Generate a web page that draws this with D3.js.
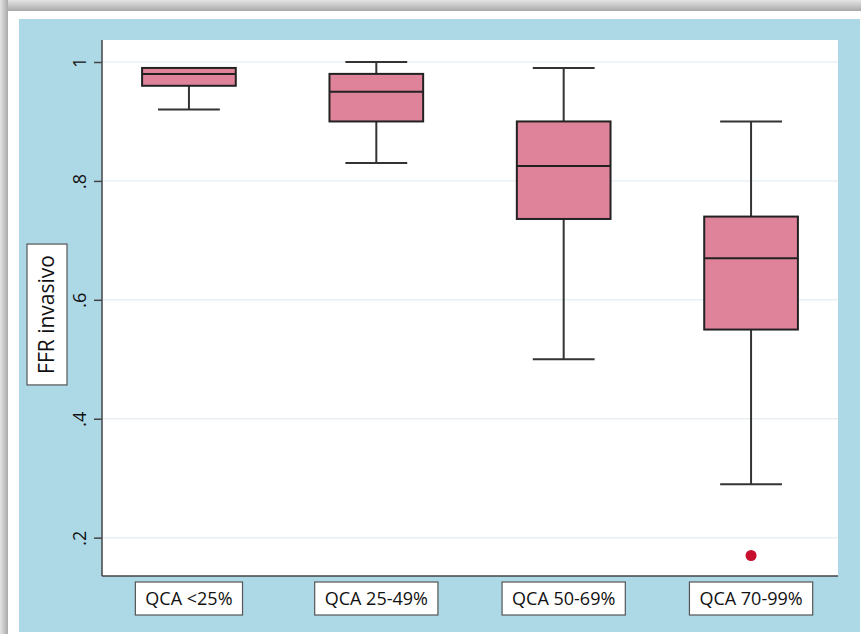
<!DOCTYPE html>
<html>
<head>
<meta charset="utf-8">
<script src="https://cdn.jsdelivr.net/npm/d3@7"></script>
<style>
  body { margin: 0; background: #ffffff; }
  text { font-family: "Open Sans", sans-serif; fill: #111; }
</style>
</head>
<body>
<div id="graph"></div>
<script>

// values
const categories = ["QCA <25%", "QCA 25-49%", "QCA 50-69%", "QCA 70-99%"];
const whiskerLow = [0.92, 0.83, 0.50, 0.29];
const quartile1 = [0.96, 0.90, 0.736, 0.55];
const medians = [0.98, 0.95, 0.825, 0.67];
const quartile3 = [0.99, 0.98, 0.90, 0.74];
const whiskerHigh = [0.99, 1.00, 0.99, 0.90];
const outlierCategory = ["QCA 70-99%"];
const outlierValue = [0.17];
const yTicks = [0.2, 0.4, 0.6, 0.8, 1];
const yTickLabels = [".2", ".4", ".6", ".8", "1"];
const yTitle = "FFR invasivo";

const data = categories.map(function(c, i) {
  return { cat: c, lo: whiskerLow[i], q1: quartile1[i], med: medians[i], q3: quartile3[i], hi: whiskerHigh[i] };
});
const outliers = outlierCategory.map(function(c, i) { return { cat: c, value: outlierValue[i] }; });

let width = 861, height = 634;
let plot = { left: 102, right: 838, top: 40, bottom: 576 };

let svg = d3.select("#graph")
      .append("svg")
      .attr("width", width)
      .attr("height", height);

// shadow strips at top and left, like the screenshot frame
let defs = svg.append("defs");
let gTop = defs.append("linearGradient").attr("id", "shTop").attr("x1", 0).attr("y1", 0).attr("x2", 0).attr("y2", 1);
gTop.append("stop").attr("offset", "0%").attr("stop-color", "#e4e4e4");
gTop.append("stop").attr("offset", "100%").attr("stop-color", "#a9a9a9");
let gLeft = defs.append("linearGradient").attr("id", "shLeft").attr("x1", 0).attr("y1", 0).attr("x2", 1).attr("y2", 0);
gLeft.append("stop").attr("offset", "0%").attr("stop-color", "#e4e4e4");
gLeft.append("stop").attr("offset", "100%").attr("stop-color", "#a9a9a9");

svg.append("rect").attr("x", 0).attr("y", 0).attr("width", width).attr("height", 11).attr("fill", "url(#shTop)");
svg.append("rect").attr("x", 0).attr("y", 0).attr("width", 8).attr("height", height).attr("fill", "url(#shLeft)");
svg.append("rect").attr("x", 8).attr("y", 11).attr("width", width - 8).attr("height", height - 11).attr("fill", "#ffffff");

// graph region (stata blue) and plot region
svg.append("rect")
      .attr("x", 19).attr("y", 19)
      .attr("width", 841).attr("height", 613)
      .attr("fill", "#add8e6");

svg.append("rect")
      .attr("x", plot.left).attr("y", plot.top)
      .attr("width", plot.right - plot.left).attr("height", plot.bottom - plot.top)
      .attr("fill", "#ffffff");

let x = d3.scaleBand()
      .domain(categories)
      .range([plot.left, plot.right])
      .paddingInner(0.5)
      .paddingOuter(0.214);

let y = d3.scaleLinear()
      .domain([0.1355, 1.037])
      .range([plot.bottom, plot.top]);

// grid
svg.append("g")
      .selectAll("line")
      .data(yTicks)
      .enter().append("line")
      .attr("x1", plot.left).attr("x2", plot.right)
      .attr("y1", function(d) { return y(d); })
      .attr("y2", function(d) { return y(d); })
      .attr("stroke", "#e8f0f4")
      .attr("stroke-width", 1.5);

// boxes
let boxes = svg.append("g").selectAll("g").data(data).enter().append("g");
let cap = 0.66;

boxes.append("line")
      .attr("x1", function(d) { return x(d.cat) + x.bandwidth() / 2; })
      .attr("x2", function(d) { return x(d.cat) + x.bandwidth() / 2; })
      .attr("y1", function(d) { return y(d.lo); })
      .attr("y2", function(d) { return y(d.hi); })
      .attr("stroke", "#333")
      .attr("stroke-width", 2);

boxes.append("line")
      .attr("x1", function(d) { return x(d.cat) + x.bandwidth() * (1 - cap) / 2; })
      .attr("x2", function(d) { return x(d.cat) + x.bandwidth() * (1 + cap) / 2; })
      .attr("y1", function(d) { return y(d.lo); })
      .attr("y2", function(d) { return y(d.lo); })
      .attr("stroke", "#333")
      .attr("stroke-width", 2);

boxes.filter(function(d) { return d.hi > d.q3; })
      .append("line")
      .attr("x1", function(d) { return x(d.cat) + x.bandwidth() * (1 - cap) / 2; })
      .attr("x2", function(d) { return x(d.cat) + x.bandwidth() * (1 + cap) / 2; })
      .attr("y1", function(d) { return y(d.hi); })
      .attr("y2", function(d) { return y(d.hi); })
      .attr("stroke", "#333")
      .attr("stroke-width", 2);

boxes.append("rect")
      .attr("x", function(d) { return x(d.cat); })
      .attr("y", function(d) { return y(d.q3); })
      .attr("width", x.bandwidth())
      .attr("height", function(d) { return y(d.q1) - y(d.q3); })
      .attr("fill", "#df839a")
      .attr("stroke", "#222")
      .attr("stroke-width", 2);

boxes.append("line")
      .attr("x1", function(d) { return x(d.cat); })
      .attr("x2", function(d) { return x(d.cat) + x.bandwidth(); })
      .attr("y1", function(d) { return y(d.med); })
      .attr("y2", function(d) { return y(d.med); })
      .attr("stroke", "#222")
      .attr("stroke-width", 2);

svg.append("g")
      .selectAll("circle")
      .data(outliers)
      .enter().append("circle")
      .attr("cx", function(d) { return x(d.cat) + x.bandwidth() / 2; })
      .attr("cy", function(d) { return y(d.value); })
      .attr("r", 5.5)
      .attr("fill", "#c8102e");

// y axis
let yAxis = d3.axisLeft(y)
      .tickValues(yTicks)
      .tickFormat(function(d, i) { return yTickLabels[i]; })
      .tickSize(8)
      .tickSizeOuter(0);

let gy = svg.append("g")
      .attr("transform", "translate(" + plot.left + ",0)")
      .call(yAxis);

gy.select(".domain").attr("stroke", "#444").attr("stroke-width", 1.5)
      .attr("d", "M0," + plot.top + "V" + plot.bottom);
gy.selectAll(".tick line").attr("stroke", "#444").attr("stroke-width", 1.5);
gy.selectAll(".tick text")
      .attr("x", null).attr("dy", null)
      .attr("transform", "translate(-16,0) rotate(-90)")
      .attr("text-anchor", "middle")
      .style("font-family", "Open Sans")
      .style("font-size", "18px")
      .attr("fill", "#111");

// x axis with boxed labels
let xAxis = d3.axisBottom(x).tickSize(0).tickSizeOuter(0);

let gx = svg.append("g")
      .attr("transform", "translate(0," + plot.bottom + ")")
      .call(xAxis);

gx.select(".domain").attr("stroke", "#444").attr("stroke-width", 1.5)
      .attr("d", "M" + plot.left + ",0H" + plot.right);
gx.selectAll(".tick text")
      .attr("y", 22.5)
      .attr("dy", "0.35em")
      .style("font-family", "Open Sans")
      .style("font-size", "18px")
      .attr("fill", "#111");

gx.selectAll(".tick").each(function() {
  let t = d3.select(this).select("text");
  let w = t.node().getComputedTextLength();
  d3.select(this).insert("rect", "text")
      .attr("x", -w / 2 - 10)
      .attr("y", 6)
      .attr("width", w + 20)
      .attr("height", 33)
      .attr("fill", "#ffffff")
      .attr("stroke", "#555")
      .attr("stroke-width", 1.2);
});

// y title in a box
let title = svg.append("g").attr("transform", "translate(47,314.5) rotate(-90)");
let titleText = title.append("text")
      .attr("text-anchor", "middle")
      .attr("dy", "0.35em")
      .style("font-size", "21px")
      .text(yTitle);
let tw = titleText.node().getComputedTextLength();
title.insert("rect", "text")
      .attr("x", -tw / 2 - 11)
      .attr("y", -20)
      .attr("width", tw + 22)
      .attr("height", 40)
      .attr("fill", "#ffffff")
      .attr("stroke", "#555")
      .attr("stroke-width", 1.2);

</script>
</body>
</html>
